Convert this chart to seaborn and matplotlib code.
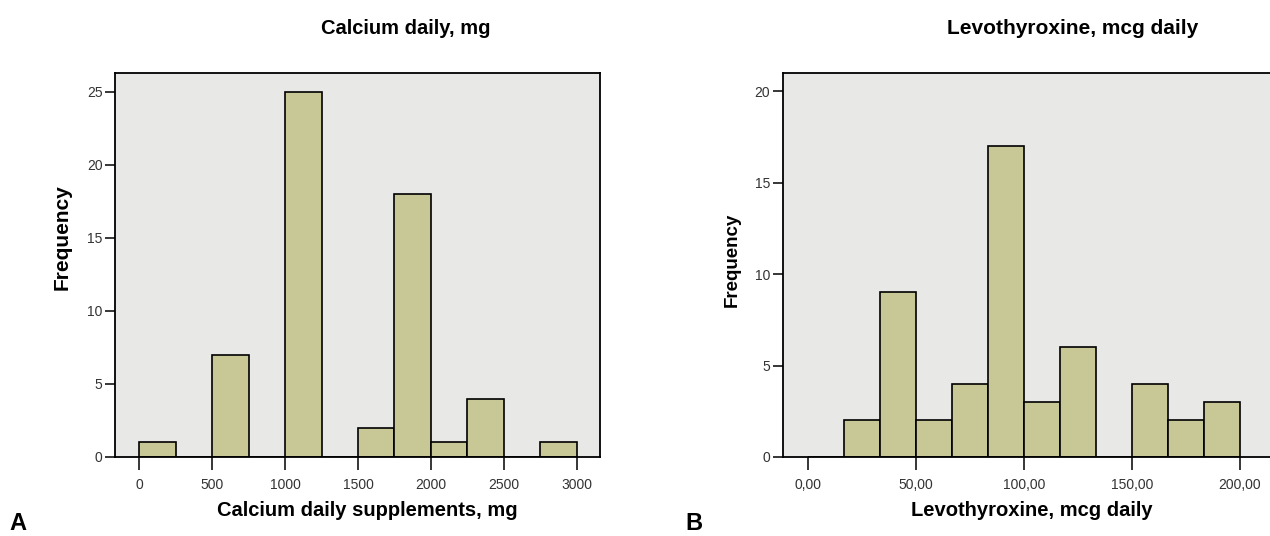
import numpy as np
import pandas as pd
import matplotlib
matplotlib.use("Agg")
import matplotlib.pyplot as plt
import seaborn as sns

# ---- data ----
calcium_edges = [0, 250, 500, 750, 1000, 1250, 1500, 1750, 2000, 2250, 2500, 2750, 3000]
calcium_counts = [1, 0, 7, 0, 25, 0, 2, 18, 1, 4, 0, 1]
calcium_ticks = [0, 500, 1000, 1500, 2000, 2500, 3000]
calcium_yticks = [0, 5, 10, 15, 20, 25]

levo_edges = [0, 16.667, 33.333, 50, 66.667, 83.333, 100, 116.667, 133.333, 150, 166.667, 183.333, 200]
levo_counts = [0, 2, 9, 2, 4, 17, 3, 6, 0, 4, 2, 3]
levo_ticks = [0, 50, 100, 150, 200]
levo_ticklabels = ["0,00", "50,00", "100,00", "150,00", "200,00"]
levo_yticks = [0, 5, 10, 15, 20]

sns.set_style("white")
plt.rcParams['font.family'] = ['Liberation Sans Narrow', 'Liberation Sans', 'DejaVu Sans']

BAR = "#C8C896"
BG = "#E8E8E6"

W, H = 1270, 536
fig = plt.figure(figsize=(W / 100, H / 100), dpi=100)

def px(x0, y0, x1, y1):
    return [x0 / W, 1 - y1 / H, (x1 - x0) / W, (y1 - y0) / H]

ax1 = fig.add_axes(px(115, 73, 600, 457))
ax2 = fig.add_axes(px(782.7, 73, 1270, 457))

def centers(edges):
    return [(edges[i] + edges[i + 1]) / 2 for i in range(len(edges) - 1)]

df1 = pd.DataFrame({"x": centers(calcium_edges), "w": calcium_counts})
df2 = pd.DataFrame({"x": centers(levo_edges), "w": levo_counts})

for ax, df, edges in [(ax1, df1, calcium_edges), (ax2, df2, levo_edges)]:
    sns.histplot(data=df, x="x", weights="w", bins=edges, ax=ax, color=BAR,
                 edgecolor="black", linewidth=1.2, alpha=1)
    ax.set_facecolor(BG)
    ax.set_xlabel("")
    ax.set_ylabel("")
    for s in ax.spines.values():
        s.set_linewidth(1.3)
        s.set_color("black")
    ax.tick_params(axis="x", direction="out", length=9, width=1.1, color="black",
                   labelsize=10, labelcolor="#333333", pad=6, bottom=True)
    ax.tick_params(axis="y", direction="out", length=7, width=1.1, color="black",
                   labelsize=10, labelcolor="#333333", pad=2, left=True)

ax1.set_xlim(-167, 3160)
ax1.set_ylim(0, 26.3)
ax1.set_xticks(calcium_ticks)
ax1.set_xticklabels([str(t) for t in calcium_ticks])
ax1.set_yticks(calcium_yticks)

ax2.set_xlim(-11.9, 214)
ax2.set_ylim(0, 21)
ax2.set_xticks(levo_ticks)
ax2.set_xticklabels(levo_ticklabels)
ax2.set_yticks(levo_yticks)
ax2.spines["right"].set_visible(False)

bold = dict(fontweight="bold", color="black", family=['Liberation Sans', 'DejaVu Sans'])
fig.text(406 / W, 1 - 28 / H, "Calcium daily, mg", ha="center", va="center", fontsize=14.5, **bold)
fig.text(1073 / W, 1 - 28 / H, "Levothyroxine, mcg daily", ha="center", va="center", fontsize=15, **bold)
fig.text(62 / W, 1 - 237 / H, "Frequency", ha="center", va="center", rotation=90, fontsize=15, **bold)
fig.text(732 / W, 1 - 260 / H, "Frequency", ha="center", va="center", rotation=90, fontsize=13.5, **bold)
fig.text(367 / W, 1 - 510 / H, "Calcium daily supplements, mg", ha="center", va="center", fontsize=14.5, **bold)
fig.text(1032 / W, 1 - 510 / H, "Levothyroxine, mcg daily", ha="center", va="center", fontsize=14.5, **bold)
fig.text(18 / W, 1 - 524 / H, "A", ha="center", va="center", fontsize=17, **bold)
fig.text(694 / W, 1 - 524 / H, "B", ha="center", va="center", fontsize=17, **bold)

fig.savefig("out.png", dpi=100, facecolor="white")
